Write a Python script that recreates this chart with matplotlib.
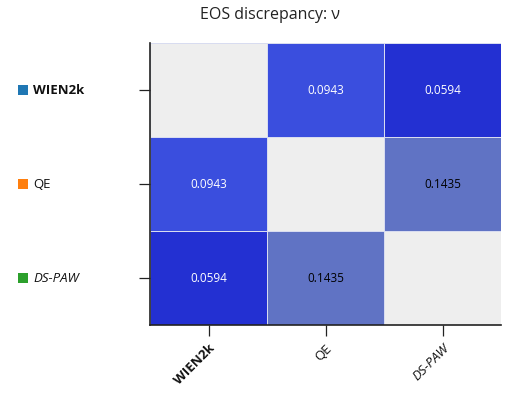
import numpy as np
import matplotlib
matplotlib.use("Agg")
import matplotlib.pyplot as plt
from matplotlib.colors import LinearSegmentedColormap
from matplotlib.patches import Rectangle

codes = ["WIEN2k", "QE", "DS-PAW"]
code_colors = ["#1f77b4", "#ff7f0e", "#2ca02c"]
label_weights = ["bold", "normal", "normal"]
label_styles = ["normal", "normal", "italic"]
values = [
    [np.nan, 0.0943, 0.0594],
    [0.0943, np.nan, 0.1435],
    [0.0594, 0.1435, np.nan],
]
title = "EOS discrepancy: \u03bd"

plt.rcParams['font.family'] = ['Open Sans', 'DejaVu Sans']

data = np.array(values, dtype=float)
vmin, vmax = 0.0594, 0.1435
cmap = LinearSegmentedColormap.from_list(
    "nu", [(0.0, "#2330d2"), ((0.0943 - vmin) / (vmax - vmin), "#3a4ede"), (1.0, "#6073c4")])
cmap.set_bad("#eeeeee")

fig = plt.figure(figsize=(5.1, 4.0), dpi=100)
ax = fig.add_axes([150 / 510, 1 - 325 / 400, 351 / 510, 282 / 400])
masked = np.ma.masked_invalid(data)
ax.pcolormesh(np.arange(4) - 0.5, np.arange(4) - 0.5, masked, cmap=cmap,
              vmin=vmin, vmax=vmax, edgecolor="#d8dcf0", linewidth=0.6)
ax.set_xlim(-0.5, 2.5)
ax.set_ylim(2.5, -0.5)

for i in range(3):
    for j in range(3):
        v = data[i, j]
        if np.isnan(v):
            continue
        col = "black" if v > 0.12 else "white"
        ax.text(j, i, f"{v:.4f}", ha="center", va="center", fontsize=8.5, color=col)

ax.set_xticks(range(3))
ax.set_xticklabels(codes, rotation=45, ha="right", rotation_mode="anchor", fontsize=9.5)
for lbl, w, s in zip(ax.get_xticklabels(), label_weights, label_styles):
    lbl.set_fontweight(w)
    lbl.set_fontstyle(s)
    lbl.set_color("#111111")
ax.set_yticks(range(3))
ax.set_yticklabels([])
ax.tick_params(axis="both", length=8, width=0.9, color="#222222")
ax.tick_params(axis="x", pad=4)

for sp in ["top", "right"]:
    ax.spines[sp].set_visible(False)
for sp in ["left", "bottom"]:
    ax.spines[sp].set_linewidth(1.2)
    ax.spines[sp].set_color("#222222")

# legend-style labels on the left
for i, (name, c, w, s) in enumerate(zip(codes, code_colors, label_weights, label_styles)):
    y_disp = ax.transData.transform((0, i))[1]
    yf = y_disp / fig.bbox.height
    fig.patches.append(Rectangle((18 / 510, yf - 5 / 400), 10 / 510, 10 / 400,
                                 transform=fig.transFigure, facecolor=c, edgecolor="none"))
    fig.text(33 / 510, yf, name, ha="left", va="center", fontsize=9.5,
             fontweight=w, fontstyle=s, color="#111111")

fig.text(270 / 510, 1 - 15 / 400, title, ha="center", va="center", fontsize=11.5, color="#222222")

fig.savefig("out.png", dpi=100)
